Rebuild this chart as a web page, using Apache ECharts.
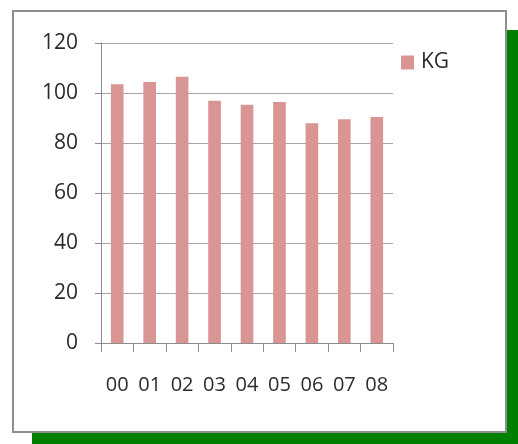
<!DOCTYPE html>
<html>
<head>
<meta charset="utf-8">
<style>html,body{margin:0;padding:0;background:#fff}#c{width:518px;height:444px}</style>
<script src="https://cdn.jsdelivr.net/npm/echarts@6/dist/echarts.min.js"></script>
</head>
<body>
<div id="c"></div>
<script>
const categories = ['00','01','02','03','04','05','06','07','08'];
const kgValues = [103.5, 104.4, 106.5, 96.9, 95.3, 96.4, 87.9, 89.5, 90.4];
const seriesName = 'KG';

const chart = echarts.init(document.getElementById('c'));
const font = '"Open Sans", "Liberation Sans", sans-serif';
chart.setOption({
  animation: false,
  backgroundColor: '#fff',
  graphic: [
    {type: 'rect', z: -10, silent: true, shape: {x: 32, y: 30, width: 486, height: 414}, style: {fill: '#008000'}},
    {type: 'rect', z: -9, silent: true, shape: {x: 13, y: 11, width: 493, height: 421}, style: {fill: '#fff', stroke: '#8e8e8e', lineWidth: 2}}
  ],
  legend: {
    data: [seriesName],
    left: 396, top: 47,
    icon: 'rect', itemWidth: 13, itemHeight: 14, itemGap: 8,
    textStyle: {fontFamily: font, fontSize: 21, color: '#2b2b2b', padding: [0, 0, 0, 2]}
  },
  grid: {left: 101, right: 125, top: 43, bottom: 101, containLabel: false},
  xAxis: {
    type: 'category', data: categories, boundaryGap: true,
    axisLine: {lineStyle: {color: '#8c8c8c', width: 1}},
    axisTick: {show: true, length: 9, alignWithLabel: false, lineStyle: {color: '#8c8c8c'}},
    axisLabel: {margin: 32, fontFamily: font, fontSize: 20, color: '#2b2b2b', interval: 0}
  },
  yAxis: {
    type: 'value', min: 0, max: 120, interval: 20,
    axisLine: {show: true, lineStyle: {color: '#8c8c8c', width: 1}},
    axisTick: {show: true, length: 6, lineStyle: {color: '#8c8c8c'}},
    splitLine: {lineStyle: {color: '#a6a6a6', width: 1}},
    axisLabel: {margin: 23, fontFamily: font, fontSize: 21, color: '#2b2b2b'}
  },
  series: [{
    name: seriesName, type: 'bar', data: kgValues, barWidth: '39%',
    itemStyle: {color: '#d99594'}
  }]
});
</script>
</body>
</html>
